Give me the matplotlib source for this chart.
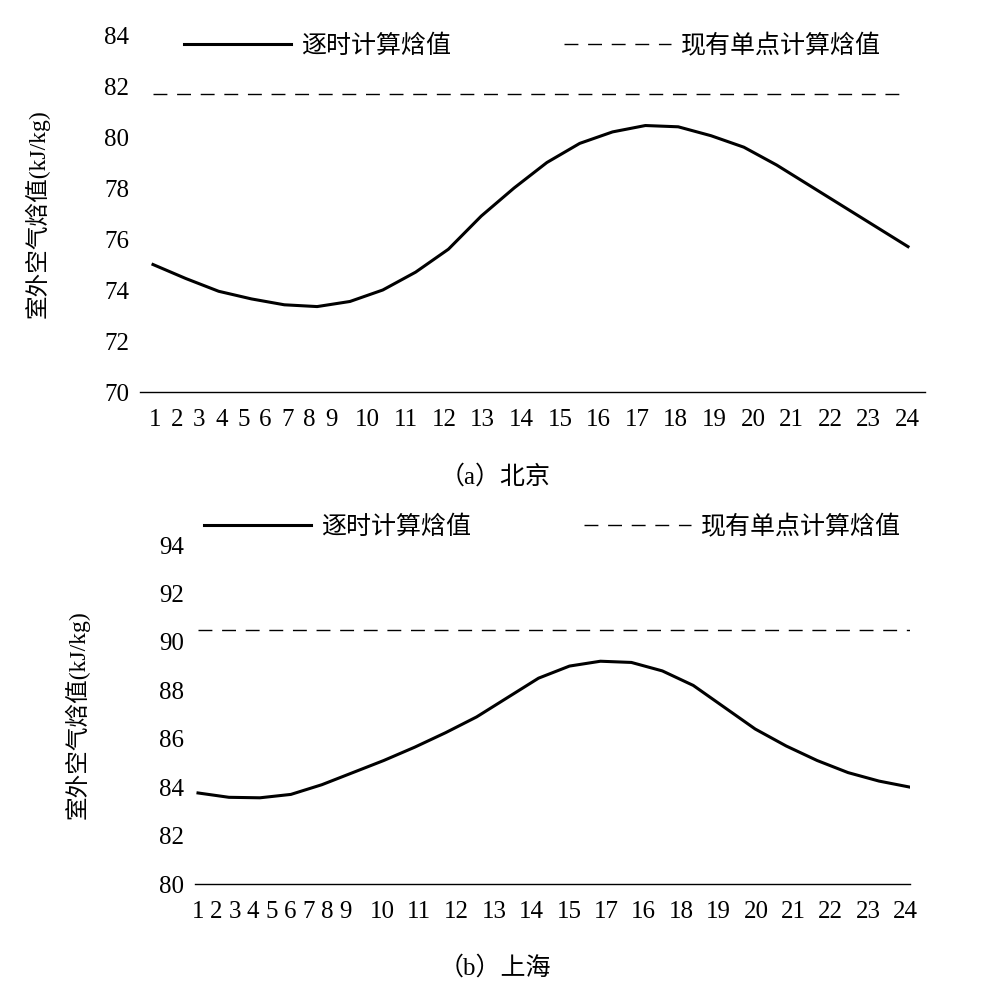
import numpy as np
import matplotlib
matplotlib.use("Agg")
import matplotlib.pyplot as plt

plt.rcParams['font.family'] = ['Liberation Serif', 'Noto Sans CJK SC']

# -------------------------------
# data
# -------------------------------
hours = np.arange(1, 25)
bj_tick_labels = [str(i) for i in range(1, 25)]
sh_tick_labels = ['1', '2', '3', '4', '5', '6', '7', '8', '9', '10', '11', '12', '13', '14',
                  '15', '17', '16', '18', '19', '20', '21', '22', '23', '24']

bj_hourly = [75.0, 74.45, 73.95, 73.65, 73.42, 73.35, 73.55, 74.0, 74.7, 75.6, 76.9, 78.0,
             79.0, 79.75, 80.2, 80.45, 80.4, 80.05, 79.6, 78.9, 78.1, 77.3, 76.5, 75.7]
bj_single = 81.7

sh_hourly = [83.76, 83.58, 83.56, 83.7, 84.1, 84.6, 85.1, 85.65, 86.25, 86.9, 87.7, 88.5,
             89.0, 89.2, 89.15, 88.8, 88.2, 87.3, 86.4, 85.7, 85.1, 84.6, 84.25, 84.0]
sh_single = 90.5

W, H = 1001, 996
fig = plt.figure(figsize=(W / 100, H / 100), dpi=100)


def px2data(px, p1, p24):
    return 1 + (px - p1) / (p24 - p1) * 23


def draw_panel(rect, y, single, ylim, labels, line_px, single_px, double_px,
               caption, cap_y, ylab_x, leg_y):
    l, b, r, t = rect
    ax = fig.add_axes([l / W, 1 - b / H, (r - l) / W, (b - t) / H])
    ax.plot(hours, y, color="black", lw=2.2, label="逐时计算焓值")
    ax.plot(hours, [single] * 24, color="black", lw=1.0, ls=(0, (10, 7)), label="现有单点计算焓值")
    p1, p24 = line_px
    ax.set_xlim(px2data(l, p1, p24), px2data(r, p1, p24))
    ax.set_ylim(*ylim)
    ax.set_yticks(np.arange(ylim[0], ylim[1] + 1, 2))
    # tick labels are packed unevenly in the original
    tick_px = [single_px[0] + single_px[1] * k for k in range(9)] + \
              [double_px[0] + double_px[1] * k for k in range(15)]
    ax.set_xticks([px2data(p, p1, p24) for p in tick_px])
    ax.set_xticklabels(labels)
    ax.tick_params(length=0, labelsize=18, pad=12)
    ax.tick_params(axis="y", pad=8)
    for s in ["top", "right", "left"]:
        ax.spines[s].set_visible(False)
    ax.spines["bottom"].set_linewidth(1.0)
    ax.set_ylabel("室外空气焓值(kJ/kg)", fontsize=17)
    ax.yaxis.set_label_coords((ylab_x - l) / (r - l), 0.5)
    ax.legend(loc="center", bbox_to_anchor=(0.5, leg_y), ncol=2, frameon=False,
              fontsize=18, handlelength=4.3, columnspacing=4.5, handletextpad=0.4)
    fig.text(495 / W, 1 - cap_y / H, caption, ha="center", va="center", fontsize=18)
    return ax


draw_panel((140, 392, 925, 35), bj_hourly, bj_single, (70, 84), bj_tick_labels,
           (153, 908), (155, 22.1), (367, 38.6), "（a）北京", 477, 50, 0.97)
draw_panel((195, 884, 910, 545), sh_hourly, sh_single, (80, 94), sh_tick_labels,
           (198, 910), (198, 18.4), (382, 37.4), "（b）上海", 968, 90, 1.053)

fig.savefig("out.png", dpi=100)
